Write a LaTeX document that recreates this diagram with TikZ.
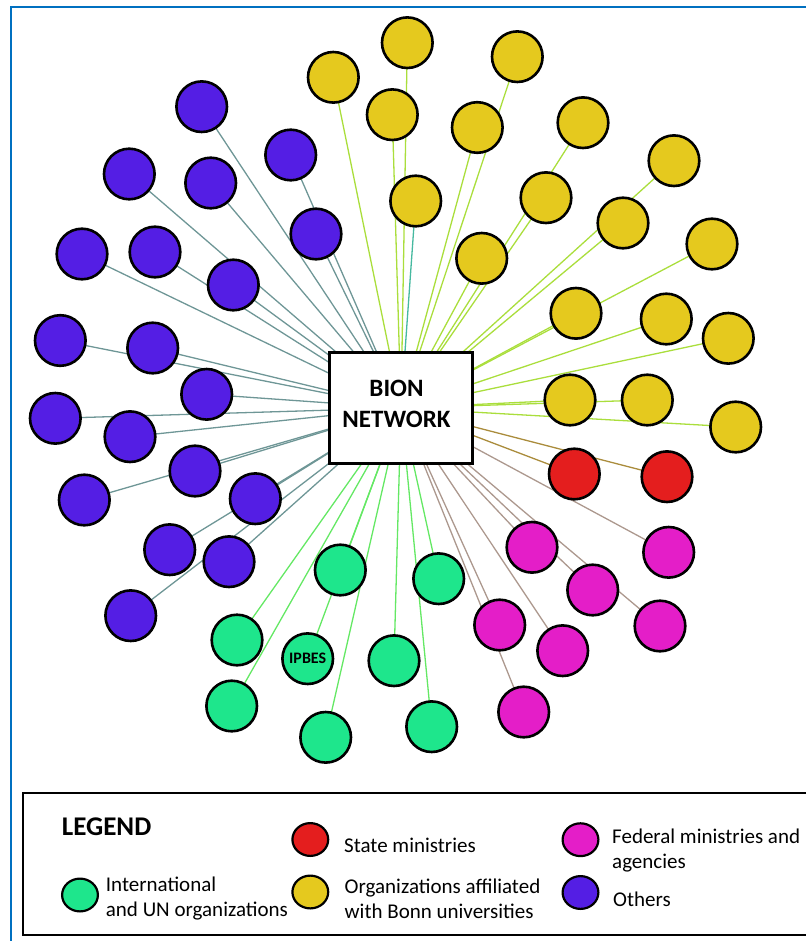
\documentclass[tikz,border=0pt]{standalone}
\usepackage{fontspec}
\setmainfont{Carlito}
\usetikzlibrary{shapes.geometric,backgrounds}
\definecolor{cPur}{RGB}{84,30,228}
\definecolor{cYel}{RGB}{229,201,30}
\definecolor{cGrn}{RGB}{30,230,140}
\definecolor{cRed}{RGB}{228,30,30}
\definecolor{cMag}{RGB}{228,30,200}
\definecolor{lPur}{RGB}{110,150,150}
\definecolor{lYel}{RGB}{170,222,60}
\definecolor{lTeal}{RGB}{70,185,160}
\definecolor{lGrn}{RGB}{100,232,100}
\definecolor{lRed}{RGB}{170,140,60}
\definecolor{lMag}{RGB}{172,152,142}
\definecolor{cFrame}{RGB}{0,112,192}
\begin{document}
\begin{tikzpicture}[x=1pt,y=-1pt,
  org/.style={circle,draw=black,line width=2.6pt,minimum size=50.6pt,inner sep=0pt},
  pur/.style={org,fill=cPur},
  yel/.style={org,fill=cYel},
  grn/.style={org,fill=cGrn},
  red/.style={org,fill=cRed},
  mag/.style={org,fill=cMag},
  lg/.style={ellipse,draw=black,line width=2.2pt,minimum width=35.8pt,minimum height=32.8pt,inner sep=0pt},
  lgtext/.style={anchor=base west,inner sep=0pt,font=\fontsize{21}{25}\selectfont},
  edge/.style={line width=1.3pt},
  box/.style={rectangle,draw=black,fill=white,line width=3pt,minimum width=143pt,minimum height=111pt,inner sep=0pt}
]
\useasboundingbox (0,0) rectangle (806,941);

% frame
\draw[cFrame,line width=2.4pt] (11,941) -- (11,7.3) -- (806,7.3);

% centre
\node[box] (bion) at (401,408) {};
\node[align=center,inner sep=0pt,font=\bfseries\fontsize{25}{31.5}\selectfont] (biontxt) at (396.5,404) {BION\\NETWORK};

% Others
\foreach \n/\x/\y in {p1/201.7/106.7,p2/290.7/155,p3/129.3/174,p4/210.7/183,p5/316/234,
  p6/82/254,p7/155/252,p8/233.3/285,p9/60.3/340.5,p10/152.7/348,p11/206.7/394.3,
  p12/55.3/418.3,p13/130/436.7,p14/195/471,p15/255.3/498.7,p16/84.3/500,
  p17/169.7/549.7,p18/229/561.7,p19/130.7/615.7}
  \node[pur] (\n) at (\x,\y) {};

% Bonn universities
\foreach \n/\x/\y in {y1/333.3/77.3,y2/407.3/42.7,y3/517.3/56.7,y4/392.3/114.7,y5/477.3/127.5,
  y6/583/122.7,y7/674/160.7,y8/415.7/201,y9/546/197.7,y10/623/223,y11/481.7/258.3,
  y12/712/244,y13/576/313.3,y14/666.3/319,y15/728.3/338.3,y16/570/400,y17/647.3/400,
  y18/735.7/427}
  \node[yel] (\n) at (\x,\y) {};

% State ministries
\node[red] (r1) at (574.3,474) {};
\node[red] (r2) at (667,476.7) {};

% Federal ministries
\foreach \n/\x/\y in {m1/532/547.3,m2/668.7/552.3,m3/592.7/590,m4/499.7/625,m5/660/626,
  m6/562.7/650.7,m7/523.7/712}
  \node[mag] (\n) at (\x,\y) {};

% International
\foreach \n/\x/\y in {g1/340.3/570,g2/438.7/578.7,g3/237/640,g5/394/660.7,
  g6/231.7/706,g7/325.7/737.3,g8/431.7/726.7}
  \node[grn] (\n) at (\x,\y) {};
\node[grn,font=\bfseries\fontsize{16}{16}\selectfont] (g4) at (307.7,658.7) {IPBES};

% edges
\begin{scope}[on background layer]
  \foreach \n in {p1,p2,p3,p4,p5,p6,p7,p8,p9,p10,p11,p12,p13,p14,p15,p16,p17,p18,p19}
    \draw[edge,lPur] (\n.center) -- (bion.center);
  \foreach \n in {y1,y2,y3,y4,y5,y6,y7,y9,y10,y11,y12,y13,y14,y15,y16,y17,y18}
    \draw[edge,lYel] (\n.center) -- (bion.center);
  \draw[edge,lTeal] (y8.center) -- (bion.center);
  \foreach \n in {r1,r2}
    \draw[edge,lRed] (\n.center) -- (bion.center);
  \foreach \n in {m1,m2,m3,m4,m5,m6,m7}
    \draw[edge,lMag] (\n.center) -- (bion.center);
  \foreach \n in {g1,g2,g3,g4,g5,g6,g7,g8}
    \draw[edge,lGrn] (\n.center) -- (bion.center);
\end{scope}

% legend
\draw[line width=2.3pt] (806,792.7) -- (22.7,792.7) -- (22.7,935) -- (806,935);
\node[anchor=base west,inner sep=0pt,font=\bfseries\fontsize{27}{27}\selectfont] (legend) at (61.7,835.7) {LEGEND};

\node[lg,fill=cRed] (lred) at (310.3,839.5) {};
\node[lgtext] (tred) at (344,852) {State ministries};
\node[lg,fill=cMag] (lmag) at (580.5,839.7) {};
\node[lgtext] (tmag1) at (612,843) {Federal ministries and};
\node[lgtext] (tmag2) at (612,868) {agencies};
\node[lg,fill=cGrn] (lgrn) at (80,895) {};
\node[lgtext] (tgrn1) at (105.7,891.7) {International};
\node[lgtext] (tgrn2) at (105.7,916.7) {and UN organizations};
\node[lg,fill=cYel] (lyel) at (310.3,892) {};
\node[lgtext] (tyel1) at (344.5,893) {Organizations affiliated};
\node[lgtext] (tyel2) at (344.5,918) {with Bonn universities};
\node[lg,fill=cPur] (lpur) at (580.5,892.5) {};
\node[lgtext] (tpur) at (613,906) {Others};
\end{tikzpicture}
\end{document}
